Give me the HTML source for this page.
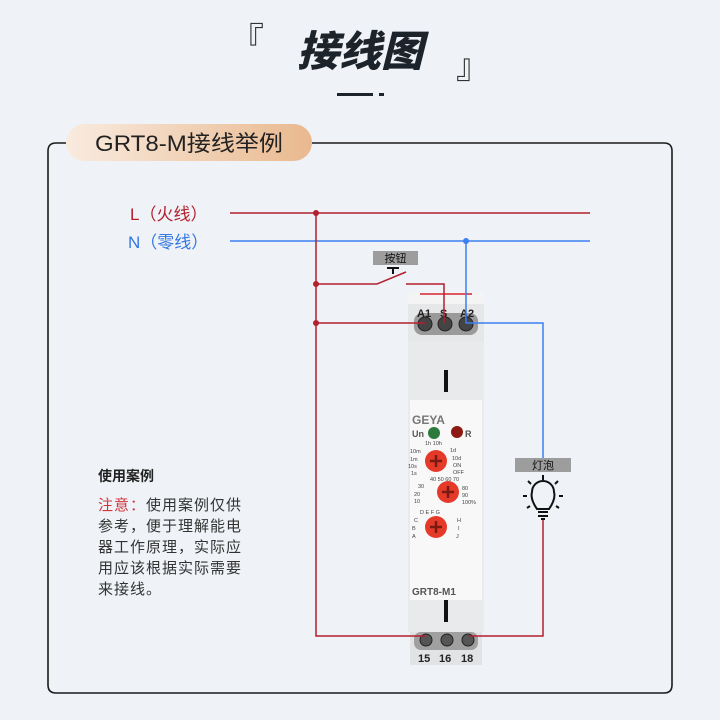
<!DOCTYPE html>
<html><head><meta charset="utf-8"><style>
body{margin:0;width:720px;height:720px;background:#eff3f7;overflow:hidden;font-family:"Liberation Sans","Noto Sans CJK SC",sans-serif;}
</style></head><body>
<svg width="720" height="720" xmlns="http://www.w3.org/2000/svg" style="position:absolute;left:0;top:0">
<defs>
<linearGradient id="pg" x1="0" x2="1"><stop offset="0" stop-color="#f9ebdf"/><stop offset="1" stop-color="#e9b98f"/></linearGradient>
</defs>
<text x="230" y="52" font-size="34" fill="#333" font-family="Noto Sans CJK SC,sans-serif">『</text>
<text x="360" y="66" font-size="42" font-weight="900" fill="#1d232b" text-anchor="middle" font-style="italic" font-family="Noto Sans CJK SC,sans-serif">接线图</text>
<text x="456" y="78" font-size="34" fill="#333" font-family="Noto Sans CJK SC,sans-serif">』</text>
<rect x="337" y="93" width="36" height="3" fill="#1d232b"/><rect x="379" y="93" width="5" height="3" fill="#1d232b"/>
<path d="M66 143 H56 Q48 143 48 151 V685 Q48 693 56 693 H664 Q672 693 672 685 V151 Q672 143 664 143 H312" fill="none" stroke="#1b1b1b" stroke-width="1.6"/>
<rect x="66" y="124" width="246" height="37" rx="18.5" fill="url(#pg)"/>
<text x="95" y="151" font-size="22" fill="#222" textLength="188" lengthAdjust="spacingAndGlyphs">GRT8-M接线举例</text>
<text x="130" y="220" font-size="17" fill="#b3202e">L（火线）</text>
<text x="128" y="248" font-size="17" fill="#3377e0">N（零线）</text>
<!-- device -->
<rect x="408" y="292" width="76" height="50" fill="#e6e7e9"/>
<rect x="408" y="292" width="76" height="12" fill="#f4f4f4"/>
<line x1="420" y1="294" x2="472" y2="294" stroke="#d8232e" stroke-width="1.5"/>
<rect x="408" y="342" width="76" height="290" fill="#e9eaec"/>
<rect x="444" y="370" width="4" height="22" fill="#111"/>
<rect x="410" y="400" width="72" height="200" fill="#f8f8f8"/>
<rect x="444" y="600" width="4" height="22" fill="#111"/>
<rect x="410" y="632" width="72" height="33" fill="#e2e3e5"/>
<rect x="414" y="313" width="64" height="22" rx="8" fill="#9a9a9a"/>
<g fill="#444" stroke="#222"><circle cx="425" cy="324" r="7"/><circle cx="445" cy="324" r="7"/><circle cx="466" cy="324" r="7"/></g>
<text x="417" y="317" font-size="11" font-weight="bold" fill="#222">A1</text><text x="440" y="317" font-size="11" font-weight="bold" fill="#222">S</text><text x="460" y="317" font-size="11" font-weight="bold" fill="#222">A2</text>
<rect x="414" y="632" width="64" height="18" rx="7" fill="#a0a0a0"/>
<g fill="#555" stroke="#222"><circle cx="426" cy="640" r="6"/><circle cx="447" cy="640" r="6"/><circle cx="468" cy="640" r="6"/></g>
<text x="418" y="662" font-size="11" font-weight="bold" fill="#222">15</text><text x="439" y="662" font-size="11" font-weight="bold" fill="#222">16</text><text x="461" y="662" font-size="11" font-weight="bold" fill="#222">18</text>
<text x="412" y="424" font-size="12" font-weight="bold" fill="#777">GEYA</text>
<text x="412" y="437" font-size="9" font-weight="bold" fill="#555">Un</text><circle cx="434" cy="433" r="6" fill="#2d7a3d"/>
<circle cx="457" cy="432" r="6" fill="#8b1a12"/><text x="465" y="437" font-size="9" font-weight="bold" fill="#555">R</text>
<g font-size="5.5" fill="#444"><text x="425" y="445">1h 10h</text><text x="410" y="453">10m</text><text x="410" y="461">1m</text><text x="408" y="468">10s</text><text x="411" y="475">1s</text><text x="450" y="452">1d</text><text x="452" y="460">10d</text><text x="453" y="467">ON</text><text x="453" y="474">OFF</text>
<text x="430" y="481">40 50 60 70</text><text x="418" y="488">30</text><text x="414" y="496">20</text><text x="414" y="503">10</text><text x="462" y="490">80</text><text x="462" y="497">90</text><text x="462" y="504">100%</text>
<text x="420" y="514">D E F G</text><text x="414" y="522">C</text><text x="412" y="530">B</text><text x="412" y="538">A</text><text x="457" y="522">H</text><text x="458" y="530">I</text><text x="456" y="538">J</text></g>
<g fill="#e53a2a"><circle cx="436" cy="461" r="11"/><circle cx="448" cy="492" r="11"/><circle cx="436" cy="527" r="11"/></g>
<g stroke="#7a1a10" stroke-width="2.5"><path d="M430 461h12M436 455v12M442 492h12M448 486v12M430 527h12M436 521v12"/></g>
<text x="412" y="595" font-size="10" font-weight="bold" fill="#555">GRT8-M1</text>
<!-- wires -->
<g fill="none" stroke-width="1.5">
<line x1="230" y1="213" x2="590" y2="213" stroke="#b3202e"/>
<line x1="230" y1="241" x2="590" y2="241" stroke="#3b7ff0"/>
<path d="M316 213 V636 H425" stroke="#b3202e"/>
<path d="M316 284 H377 L406 272" stroke="#b3202e"/>
<path d="M406 284 H444 V323" stroke="#b3202e"/>
<path d="M316 323 H425" stroke="#b3202e"/>
<path d="M466 241 V323 H543 V458" stroke="#3b7ff0"/>
<path d="M543 520 V636 H469" stroke="#b3202e"/>
<path d="M393 268 V274 M387 268 H399" stroke="#111" stroke-width="2"/>
</g>
<g fill="#b3202e"><circle cx="316" cy="213" r="3"/><circle cx="316" cy="284" r="3"/><circle cx="316" cy="323" r="3"/></g>
<circle cx="466" cy="241" r="3" fill="#3b7ff0"/>
<rect x="373" y="251" width="45" height="14" fill="#9d9d9d"/><text x="395.5" y="262" font-size="11" fill="#111" text-anchor="middle">按钮</text>
<rect x="515" y="458" width="56" height="14" fill="#9d9d9d"/><text x="543" y="469" font-size="11" fill="#111" text-anchor="middle">灯泡</text>
<g stroke="#111" stroke-width="2" fill="none">
<path d="M537 509 Q530 499 532 492 A11 11 0 1 1 554 492 Q556 499 549 509 Z"/>
<path d="M538 512H548M538 516H548M541 519H545"/>
<path d="M543 475V480M528 481L531 484M558 481L555 484M523 496H527M559 496H563M527 508L530 506M559 508L556 506"/>
</g>
</svg>
<div style="position:absolute;left:98px;top:466px;font-size:14px;font-weight:bold;color:#222">使用案例</div>
<div style="position:absolute;left:98px;top:495px;width:148px;font-size:15px;letter-spacing:1px;line-height:21px;color:#333"><span style="color:#d2343b">注意：</span>使用案例仅供参考，便于理解能电器工作原理，实际应用应该根据实际需要来接线。</div>
</body></html>
